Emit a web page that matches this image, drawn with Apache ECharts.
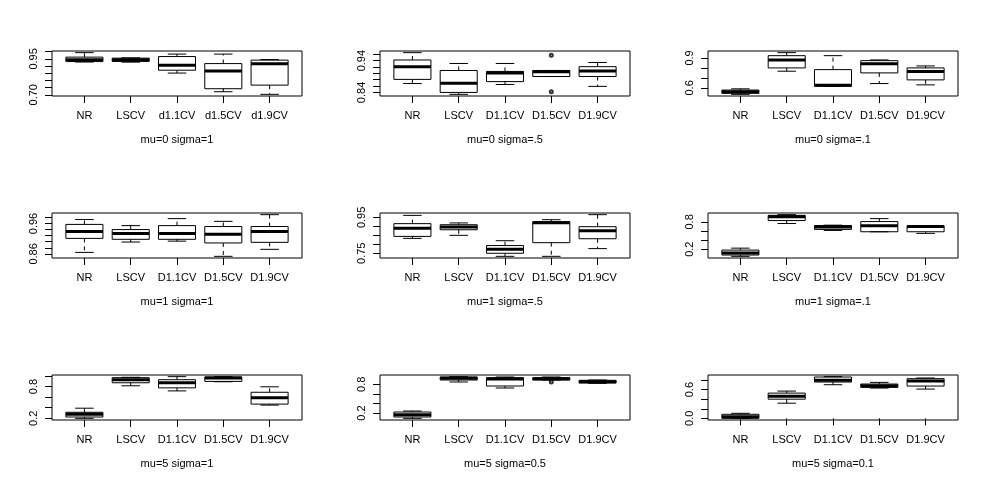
<!DOCTYPE html>
<html>
<head>
    <meta charset="utf-8"/>
    <title>boxplots</title>
    <style type="text/css">
        body { margin: 0; background: #fff; }
        #main { width: 984px; height: 484px; }
    </style>
    <script type="text/javascript" src="https://cdn.jsdelivr.net/npm/echarts@6.0.0/dist/echarts.min.js"></script>
</head>
<body>
<div id="main"></div>
<script type="text/javascript">

    // 类别
    var catsLower = ['NR', 'LSCV', 'd1.1CV', 'd1.5CV', 'd1.9CV'];
    var catsUpper = ['NR', 'LSCV', 'D1.1CV', 'D1.5CV', 'D1.9CV'];

    var titles = ['mu=0 sigma=1', 'mu=0 sigma=.5', 'mu=0 sigma=.1',
        'mu=1 sigma=1', 'mu=1 sigma=.5', 'mu=1 sigma=.1',
        'mu=5 sigma=1', 'mu=5 sigma=0.5', 'mu=5 sigma=0.1'];

    // 每个箱线: [min, Q1, median, Q3, max]
    var mu0s1 = [[0.928, 0.931, 0.943, 0.962, 0.993], [0.927, 0.932, 0.943, 0.955, 0.957],
        [0.851, 0.871, 0.906, 0.966, 0.983], [0.721, 0.742, 0.865, 0.917, 0.983], [0.703, 0.767, 0.915, 0.941, 0.945]];
    var mu0s05 = [[0.868, 0.881, 0.921, 0.942, 0.965], [0.834, 0.840, 0.869, 0.909, 0.931],
        [0.865, 0.874, 0.901, 0.906, 0.931], [0.890, 0.890, 0.905, 0.909, 0.909], [0.859, 0.890, 0.907, 0.921, 0.934]];
    var mu0s01 = [[0.535, 0.545, 0.560, 0.578, 0.590], [0.767, 0.800, 0.880, 0.923, 0.953],
        [0.617, 0.617, 0.625, 0.783, 0.923], [0.643, 0.750, 0.843, 0.873, 0.880], [0.630, 0.680, 0.763, 0.800, 0.820]];
    var mu1s1 = [[0.865, 0.911, 0.934, 0.957, 0.973], [0.899, 0.908, 0.927, 0.940, 0.953],
        [0.902, 0.908, 0.927, 0.953, 0.976], [0.852, 0.896, 0.925, 0.950, 0.967], [0.875, 0.898, 0.934, 0.950, 0.989]];
    var mu1s05 = [[0.833, 0.844, 0.889, 0.915, 0.961], [0.850, 0.881, 0.896, 0.909, 0.919],
        [0.733, 0.750, 0.772, 0.793, 0.820], [0.733, 0.809, 0.920, 0.926, 0.937], [0.776, 0.831, 0.876, 0.898, 0.965]];
    var mu1s01 = [[0.042, 0.071, 0.114, 0.179, 0.222], [0.764, 0.829, 0.915, 0.944, 0.959],
        [0.612, 0.634, 0.690, 0.720, 0.728], [0.583, 0.583, 0.713, 0.807, 0.872], [0.547, 0.583, 0.699, 0.713, 0.720]];
    var mu5s1 = [[0.200, 0.225, 0.276, 0.314, 0.391], [0.813, 0.870, 0.928, 0.966, 0.973],
        [0.717, 0.774, 0.870, 0.928, 0.985], [0.889, 0.896, 0.960, 0.979, 0.985], [0.449, 0.468, 0.589, 0.691, 0.794]];
    var mu5s05 = [[0.089, 0.117, 0.166, 0.221, 0.242], [0.849, 0.890, 0.925, 0.953, 0.960],
        [0.723, 0.765, 0.911, 0.939, 0.953], [0.890, 0.890, 0.918, 0.939, 0.953], [0.821, 0.828, 0.856, 0.884, 0.890]];
    var mu5s01 = [[0.000, 0.000, 0.035, 0.084, 0.105], [0.316, 0.400, 0.463, 0.527, 0.569],
        [0.702, 0.758, 0.793, 0.863, 0.870], [0.632, 0.646, 0.681, 0.716, 0.751], [0.611, 0.674, 0.779, 0.828, 0.842]];

    // 离群点: [类别序号(1..5), 值]
    var out0s05 = [[4, 0.957], [4, 0.842]];
    var out5s05 = [[4, 0.849]];

    // y轴刻度 和 显示的刻度标签
    var ticks1 = [0.70, 0.75, 0.80, 0.85, 0.90, 0.95, 1.00];
    var ticks2 = [0.84, 0.86, 0.88, 0.90, 0.92, 0.94, 0.96];
    var ticks3 = [0.6, 0.7, 0.8, 0.9];
    var ticks4 = [0.86, 0.88, 0.90, 0.92, 0.94, 0.96, 0.98];
    var ticks5 = [0.75, 0.80, 0.85, 0.90, 0.95];
    var ticks6 = [0.2, 0.4, 0.6, 0.8];
    var ticks7 = [0.2, 0.4, 0.6, 0.8, 1.0];
    var ticks8 = [0.2, 0.4, 0.6, 0.8];
    var ticks9 = [0.0, 0.2, 0.4, 0.6, 0.8];
    var labels1 = [0.70, 0.95];
    var labels2 = [0.84, 0.94];
    var labels3 = [0.6, 0.9];
    var labels4 = [0.86, 0.96];
    var labels5 = [0.75, 0.95];
    var labels6 = [0.2, 0.8];
    var labels7 = [0.2, 0.8];
    var labels8 = [0.2, 0.8];
    var labels9 = [0.0, 0.6];
    var decimals = [2, 2, 1, 2, 2, 1, 1, 1, 1];

    var panels = [mu0s1, mu0s05, mu0s01, mu1s1, mu1s05, mu1s01, mu5s1, mu5s05, mu5s01];
    var outliers = [[], out0s05, [], [], [], [], [], out5s05, []];
    var tickSets = [ticks1, ticks2, ticks3, ticks4, ticks5, ticks6, ticks7, ticks8, ticks9];
    var labelSets = [labels1, labels2, labels3, labels4, labels5, labels6, labels7, labels8, labels9];

    var colLeft = [52, 380, 708];
    var rowTop = [51, 213, 375];
    var font = 'Liberation Sans, Arial, sans-serif';

    function renderBox(params, api) {
        var x = api.value(0);
        var lo = api.coord([x, api.value(1)]);
        var q1 = api.coord([x, api.value(2)]);
        var md = api.coord([x, api.value(3)]);
        var q3 = api.coord([x, api.value(4)]);
        var hi = api.coord([x, api.value(5)]);
        var hw = api.size([0.8, 0])[0] / 2;
        var cx = md[0];
        var thin = {stroke: '#000', lineWidth: 1};
        var dash = {stroke: '#000', lineWidth: 1, lineDash: [4, 4]};
        return {
            type: 'group',
            children: [
                {type: 'line', shape: {x1: cx, y1: q3[1], x2: cx, y2: hi[1]}, style: dash},
                {type: 'line', shape: {x1: cx, y1: q1[1], x2: cx, y2: lo[1]}, style: dash},
                {type: 'line', shape: {x1: cx - hw / 2, y1: hi[1], x2: cx + hw / 2, y2: hi[1]}, style: thin},
                {type: 'line', shape: {x1: cx - hw / 2, y1: lo[1], x2: cx + hw / 2, y2: lo[1]}, style: thin},
                {type: 'rect', shape: {x: cx - hw, y: q3[1], width: 2 * hw, height: q1[1] - q3[1]},
                    style: {fill: 'none', stroke: '#000', lineWidth: 1}},
                {type: 'line', shape: {x1: cx - hw, y1: md[1], x2: cx + hw, y2: md[1]},
                    style: {stroke: '#000', lineWidth: 3, lineCap: 'butt'}}
            ]
        };
    }

    var grids = [], xAxes = [], yAxes = [], series = [];

    panels.forEach(function (boxes, i) {
        var cats = i === 0 ? catsLower : catsUpper;
        var dec = decimals[i];

        // R 的范围: 数据范围两边各加 4%
        var lo = Infinity, hi = -Infinity;
        boxes.forEach(function (b) {
            lo = Math.min(lo, b[0]);
            hi = Math.max(hi, b[4]);
        });
        outliers[i].forEach(function (o) {
            lo = Math.min(lo, o[1]);
            hi = Math.max(hi, o[1]);
        });
        var pad = (hi - lo) * 0.04;

        grids.push({
            left: colLeft[i % 3], top: rowTop[Math.floor(i / 3)], width: 250, height: 45,
            show: true, borderColor: '#000', borderWidth: 1, backgroundColor: 'transparent'
        });

        xAxes.push({
            type: 'value', gridIndex: i, min: 0.3, max: 5.7,
            name: titles[i], nameLocation: 'middle', nameGap: 38,
            nameTextStyle: {fontSize: 11, color: '#000', fontFamily: font},
            axisLine: {show: false},
            splitLine: {show: false},
            axisTick: {show: true, length: 7, lineStyle: {color: '#000'}, customValues: [1, 2, 3, 4, 5]},
            axisLabel: {
                fontSize: 11, color: '#000', fontFamily: font, margin: 14,
                customValues: [1, 2, 3, 4, 5],
                formatter: function (v) { return cats[Math.round(v) - 1]; }
            }
        });

        yAxes.push({
            type: 'value', gridIndex: i, min: lo - pad, max: hi + pad,
            axisLine: {show: false},
            splitLine: {show: false},
            axisTick: {show: true, length: 7, lineStyle: {color: '#000'}, customValues: tickSets[i]},
            axisLabel: {
                fontSize: 11, color: '#000', fontFamily: font, margin: 13, rotate: 90,
                customValues: labelSets[i],
                formatter: function (v) { return v.toFixed(dec); }
            }
        });

        series.push({
            type: 'custom',
            xAxisIndex: i, yAxisIndex: i,
            renderItem: renderBox,
            encode: {x: 0, y: [1, 2, 3, 4, 5]},
            data: boxes.map(function (b, k) { return [k + 1].concat(b); })
        });

        if (outliers[i].length) {
            series.push({
                type: 'scatter',
                xAxisIndex: i, yAxisIndex: i,
                symbol: 'emptyCircle', symbolSize: 3,
                itemStyle: {color: '#000', borderWidth: 0.8},
                data: outliers[i]
            });
        }
    });

    var myChart = echarts.init(document.getElementById('main'));
    myChart.setOption({
        animation: false,
        backgroundColor: '#fff',
        grid: grids,
        xAxis: xAxes,
        yAxis: yAxes,
        series: series
    });

</script>
</body>
</html>
